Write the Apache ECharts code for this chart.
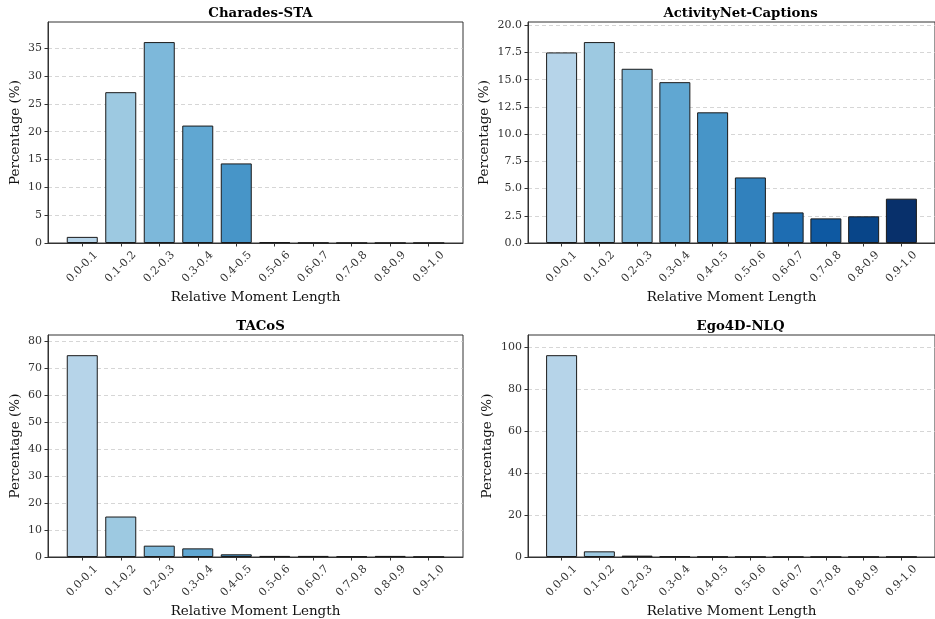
<!DOCTYPE html>
<html><head><meta charset="utf-8">
<script src="https://cdn.jsdelivr.net/npm/echarts@6/dist/echarts.min.js"></script>
<style>html,body{margin:0;padding:0;background:#fff}#c{width:935px;height:619px}</style>
</head><body><div id="c"></div>
<script>
const categories = ['0.0-0.1','0.1-0.2','0.2-0.3','0.3-0.4','0.4-0.5','0.5-0.6','0.6-0.7','0.7-0.8','0.8-0.9','0.9-1.0'];
const titles = ['Charades-STA','ActivityNet-Captions','TACoS','Ego4D-NLQ'];
const charades = [1.1, 27.1, 36.1, 21.1, 14.3, 0.15, 0.05, 0.02, 0.01, 0.01];
const activitynet = [17.5, 18.45, 16.0, 14.77, 12.0, 6.02, 2.81, 2.26, 2.45, 4.07];
const tacos = [74.8, 15.0, 4.2, 3.2, 1.0, 0.4, 0.4, 0.25, 0.4, 0.1];
const ego4d = [96.2, 2.7, 0.65, 0.3, 0.15, 0.1, 0.1, 0.08, 0.1, 0.1];
const yTicks = [
  [0,5,10,15,20,25,30,35],
  [0,2.5,5,7.5,10,12.5,15,17.5,20],
  [0,10,20,30,40,50,60,70,80],
  [0,20,40,60,80,100]
];
const yDecimals = [0,1,0,0];
const colors = ['#b6d4e9','#9dc9e1','#7db8da','#60a7d2','#4795c8','#3181bd','#1e6db2','#0e59a2','#084589','#08306b'];

const datasets = [charades, activitynet, tacos, ego4d];
const font = 'DejaVu Serif';
const grids = [
  {left:48, top:22, width:415, height:221},
  {left:528, top:22, width:415, height:221},
  {left:48, top:335, width:415, height:222},
  {left:528, top:335, width:415, height:222}
];
const yNameGaps = [26, 37, 26, 34];
const idx = categories.map((_, i) => i);

const option = {
  animation: false,
  title: grids.map((g, k) => ({
    text: titles[k],
    left: g.left + g.width / 2,
    top: g.top - 20,
    textAlign: 'center',
    textStyle: {fontFamily: font, fontWeight: 'bold', fontSize: 13.3, color: '#000'}
  })),
  grid: grids.map(g => Object.assign({show: true, borderColor: '#333', borderWidth: 1, backgroundColor: 'transparent'}, g)),
  xAxis: grids.map((g, k) => ({
    type: 'value', gridIndex: k, min: -0.89, max: 9.89,
    name: 'Relative Moment Length', nameLocation: 'middle', nameGap: 47,
    nameTextStyle: {fontFamily: font, fontSize: 13.5, color: '#111'},
    axisLine: {show: true, onZero: false, lineStyle: {color: '#333', width: 1}},
    axisTick: {show: true, customValues: idx, length: 3.5, lineStyle: {color: '#333'}},
    axisLabel: {customValues: idx, formatter: v => categories[Math.round(v)], rotate: 45,
      align: 'center', verticalAlign: 'middle', margin: 24,
      fontFamily: font, fontSize: 11, color: '#333'},
    splitLine: {show: false}
  })),
  yAxis: grids.map((g, k) => {
    const mx = Math.max(...datasets[k]) * 1.1;
    return {
      type: 'value', gridIndex: k, min: 0, max: mx,
      name: 'Percentage (%)', nameLocation: 'middle', nameGap: yNameGaps[k],
      nameTextStyle: {fontFamily: font, fontSize: 13.5, color: '#111'},
      axisLine: {show: true, onZero: false, lineStyle: {color: '#333', width: 1}},
      axisTick: {show: true, customValues: yTicks[k], length: 3.5, lineStyle: {color: '#333'}},
      axisLabel: {customValues: yTicks[k], formatter: v => v.toFixed(yDecimals[k]), margin: 6,
        fontFamily: font, fontSize: 11, color: '#333'},
      interval: yTicks[k][1] - yTicks[k][0],
      splitLine: {show: true, lineStyle: {color: '#cccccc', type: [4, 3], width: 0.8}}
    };
  }),
  series: datasets.map((d, k) => ({
    type: 'bar', xAxisIndex: k, yAxisIndex: k, barWidth: 31,
    data: d.map((v, i) => ({value: [i, v], itemStyle: {color: colors[i]}})),
    itemStyle: {borderColor: '#1a1a1a', borderWidth: 1}
  }))
};
echarts.init(document.getElementById('c')).setOption(option);
</script></body></html>
